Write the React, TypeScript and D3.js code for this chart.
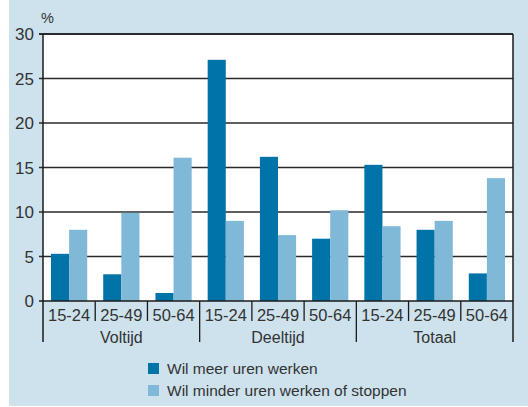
import React, { useEffect, useRef } from 'react';
import * as d3 from 'd3';

const groups = ['Voltijd', 'Deeltijd', 'Totaal'];
const ages = ['15-24', '25-49', '50-64'];
const seriesNames = ['Wil meer uren werken', 'Wil minder uren werken of stoppen'];
const meerUren = [5.3, 3.0, 0.9, 27.1, 16.2, 7.0, 15.3, 8.0, 3.1];
const minderUren = [8.0, 9.9, 16.1, 9.0, 7.4, 10.2, 8.4, 9.0, 13.8];
const yTicks = [0, 5, 10, 15, 20, 25, 30];

const colors = ['#0073a9', '#80b8d7'];

const App = () => {
  const svgRef = useRef(null);
  const width = 528;
  const height = 407;

  useEffect(() => {
    const svg = d3.select(svgRef.current);
    svg.selectAll('*').remove();

    const left = 43, right = 513, top = 34, bottom = 301;
    const font = 'Liberation Sans, Arial, sans-serif';

    svg.append('rect')
      .attr('x', 9).attr('y', 0)
      .attr('width', width - 9).attr('height', 406)
      .attr('fill', '#cde2ed');

    svg.append('rect')
      .attr('x', left).attr('y', top)
      .attr('width', right - left).attr('height', bottom - top)
      .attr('fill', '#fff');

    const cats = [];
    groups.forEach(g => ages.forEach(a => cats.push(g + '|' + a)));

    const x = d3.scaleBand().domain(cats).range([left, right]).paddingInner(0).paddingOuter(0);
    const y = d3.scaleLinear().domain([0, 30]).range([bottom, top]);
    const inner = d3.scaleBand().domain(['0', '1']).range([8, x.bandwidth() - 8]);

    // gridlines
    svg.append('g').selectAll('line')
      .data(yTicks.slice(1))
      .enter().append('line')
      .attr('x1', left - 4).attr('x2', right)
      .attr('y1', d => y(d)).attr('y2', d => y(d))
      .attr('stroke', '#2a2a2a').attr('stroke-width', 1.3);

    svg.append('g').selectAll('text')
      .data(yTicks)
      .enter().append('text')
      .attr('x', 34).attr('y', d => y(d) + 6)
      .attr('text-anchor', 'end')
      .attr('font-family', font).attr('font-size', 17)
      .attr('fill', '#333')
      .text(d => d);

    svg.append('text')
      .attr('x', 41).attr('y', 23)
      .attr('font-family', font).attr('font-size', 14.5)
      .attr('fill', '#333')
      .text('%');

    // bars
    const data = cats.map((c, i) => ({ c, vals: [meerUren[i], minderUren[i]] }));
    const barG = svg.append('g');
    data.forEach(d => {
      d.vals.forEach((v, j) => {
        barG.append('rect')
          .attr('x', x(d.c) + inner(String(j)))
          .attr('y', y(v))
          .attr('width', inner.bandwidth())
          .attr('height', y(0) - y(v))
          .attr('fill', colors[j]);
      });
    });

    // axes frame
    svg.append('line')
      .attr('x1', left).attr('x2', left).attr('y1', top).attr('y2', 342)
      .attr('stroke', '#1a1a1a').attr('stroke-width', 1.5);
    svg.append('line')
      .attr('x1', right).attr('x2', right).attr('y1', top).attr('y2', 342)
      .attr('stroke', '#1a1a1a').attr('stroke-width', 1.5);
    svg.append('line')
      .attr('x1', left - 4).attr('x2', right).attr('y1', bottom).attr('y2', bottom)
      .attr('stroke', '#1a1a1a').attr('stroke-width', 1.5);
    svg.append('line')
      .attr('x1', left - 4).attr('x2', right).attr('y1', top).attr('y2', top)
      .attr('stroke', '#1a1a1a').attr('stroke-width', 1.5);

    // category dividers
    cats.forEach((c, i) => {
      if (i === 0) return;
      const isGroup = i % 3 === 0;
      svg.append('line')
        .attr('x1', x(c)).attr('x2', x(c))
        .attr('y1', bottom).attr('y2', isGroup ? 342 : 321)
        .attr('stroke', '#1a1a1a').attr('stroke-width', 1.3);
    });

    svg.append('g').selectAll('text')
      .data(cats)
      .enter().append('text')
      .attr('x', d => x(d) + x.bandwidth() / 2)
      .attr('y', 321)
      .attr('text-anchor', 'middle')
      .attr('font-family', font).attr('font-size', 16.5)
      .attr('fill', '#333')
      .text(d => d.split('|')[1]);

    svg.append('g').selectAll('text')
      .data(groups)
      .enter().append('text')
      .attr('x', (d, i) => x(d + '|' + ages[1]) + x.bandwidth() / 2)
      .attr('y', 343)
      .attr('text-anchor', 'middle')
      .attr('font-family', font).attr('font-size', 16)
      .attr('fill', '#333')
      .text(d => d);

    // legend
    seriesNames.forEach((s, i) => {
      svg.append('rect')
        .attr('x', 148).attr('y', 363 + i * 22)
        .attr('width', 11).attr('height', 11)
        .attr('fill', colors[i]);
      svg.append('text')
        .attr('x', 167).attr('y', 374 + i * 22)
        .attr('font-family', font).attr('font-size', 15.5)
        .attr('fill', '#333')
        .text(s);
    });
  }, []);

  return (
    <svg width={width} height={height} ref={svgRef}
      style={{ position: 'absolute', left: 0, top: 0, display: 'block' }} />
  );
};

export default App;
